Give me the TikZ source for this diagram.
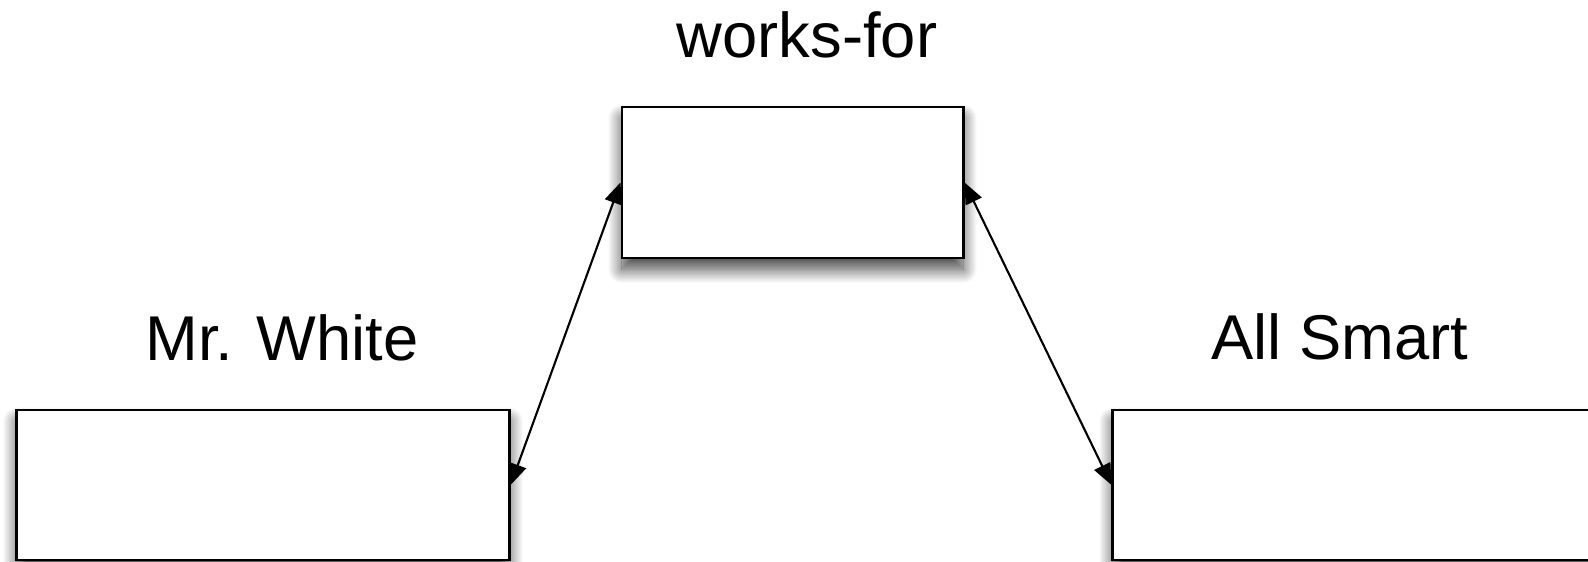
\documentclass[tikz,border=0pt]{standalone}
\usepackage{fontspec}
\setmainfont{Liberation Sans}
\usetikzlibrary{arrows.meta,shadows.blur}

\begin{document}
\begin{tikzpicture}[x=0.01cm,y=-0.01cm,
    box/.style={draw,fill=white,line width=0.8pt,
        blur shadow={shadow xshift=0pt,shadow yshift=-3.2pt,shadow blur radius=4pt,
            shadow blur steps=20,shadow opacity=75}},
    lbl/.style={font=\fontsize{18}{22}\selectfont,anchor=base},
    link/.style={{Triangle[length=6pt,width=5pt]}-{Triangle[length=6pt,width=5pt]},line width=0.6pt}]

    \useasboundingbox (0,0) rectangle (1588,562);

    \node[box,minimum width=3.41cm,minimum height=1.51cm] (works) at (792.5,182.5) {};
    \node[box,minimum width=4.92cm,minimum height=1.50cm] (white) at (263,485) {};
    \node[box,minimum width=4.92cm,minimum height=1.50cm] (smart) at (1359,485) {};

    \node[lbl] (worksl) at (807,58) {works-for};
    \node[lbl] (whitel) at (282,361) {Mr. White};
    \node[lbl] (smartl) at (1340,360) {All Smart};

    \draw[link] (white.east) -- (works.west);
    \draw[link] (works.east) -- (smart.west);
\end{tikzpicture}
\end{document}
